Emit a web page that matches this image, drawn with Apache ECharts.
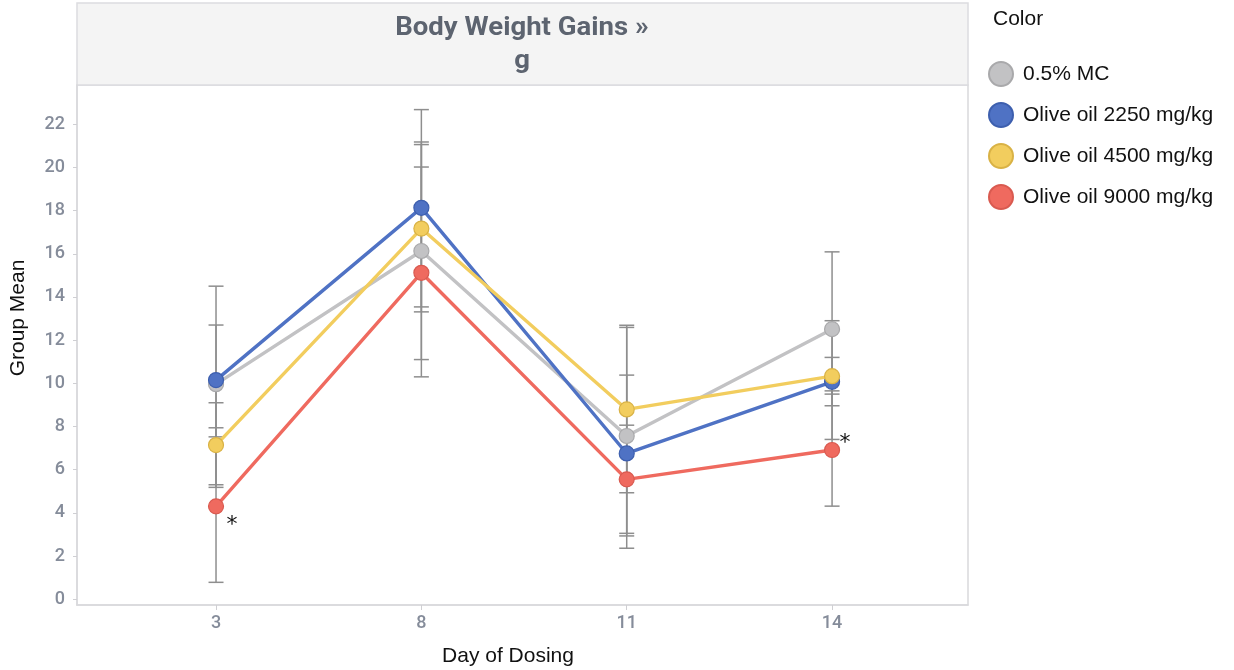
<!DOCTYPE html>
<html>
<head>
<meta charset="utf-8">
<script src="https://cdn.jsdelivr.net/npm/echarts@6/dist/echarts.min.js"></script>
<style>html,body{margin:0;padding:0;background:#fff}#c{width:1234px;height:670px}</style>
</head>
<body>
<div id="c"></div>
<script>
const days = ['3', '8', '11', '14'];
const yTicks = [0, 2, 4, 6, 8, 10, 12, 14, 16, 18, 20, 22];
const seriesNames = ['0.5% MC', 'Olive oil 2250 mg/kg', 'Olive oil 4500 mg/kg', 'Olive oil 9000 mg/kg'];
const mcMean = [9.96, 16.13, 7.56, 12.51];
const mcLow = [5.3, 11.1, 2.36, 8.96];
const mcHigh = [14.5, 21.18, 12.59, 16.09];
const o2250Mean = [10.15, 18.13, 6.75, 10.07];
const o2250Low = [7.52, 13.54, 3.05, 7.4];
const o2250High = [12.7, 22.68, 10.38, 12.9];
const o4500Mean = [7.14, 17.17, 8.79, 10.33];
const o4500Low = [5.18, 13.31, 4.93, 9.5];
const o4500High = [9.1, 21.06, 12.69, 11.2];
const o9000Mean = [4.3, 15.12, 5.55, 6.91];
const o9000Low = [0.78, 10.3, 2.93, 4.31];
const o9000High = [7.94, 20.02, 8.06, 9.65];
const significant = [0, 3]; // indices of days marked with *

const colors = ['#c2c2c4', '#4f72c4', '#f2cd5e', '#ef6a5f'];
const borders = ['#a9a9ab', '#3d5fae', '#d9b245', '#d95a50'];
const means = [mcMean, o2250Mean, o4500Mean, o9000Mean];
const lows = [mcLow, o2250Low, o4500Low, o9000Low];
const highs = [mcHigh, o2250High, o4500High, o9000High];

const chart = echarts.init(document.getElementById('c'));

const series = [];
const errData = [];
means.forEach((m, s) => m.forEach((v, i) => errData.push([i, lows[s][i], highs[s][i]])));
series.push({
  type: 'custom',
  name: 'err',
  z: 1,
  silent: true,
  data: errData,
  encode: { x: 0, y: [1, 2] },
  renderItem: function (params, api) {
    const x = api.value(0);
    const lo = api.coord([x, api.value(1)]);
    const hi = api.coord([x, api.value(2)]);
    const w = 7.5;
    const st = { stroke: '#8e8e8e', lineWidth: 1.5, fill: null };
    return {
      type: 'group',
      children: [
        { type: 'line', shape: { x1: lo[0], y1: lo[1], x2: hi[0], y2: hi[1] }, style: st },
        { type: 'line', shape: { x1: lo[0] - w, y1: lo[1], x2: lo[0] + w, y2: lo[1] }, style: st },
        { type: 'line', shape: { x1: hi[0] - w, y1: hi[1], x2: hi[0] + w, y2: hi[1] }, style: st }
      ]
    };
  }
});
means.forEach((m, s) => {
  const ser = {
    type: 'line',
    name: seriesNames[s],
    z: 3 + s,
    data: m.map((v, i) => [i, v]),
    symbol: 'circle',
    symbolSize: 15,
    showSymbol: true,
    lineStyle: { color: colors[s], width: 3.4 },
    itemStyle: { color: colors[s], borderColor: borders[s], borderWidth: 1.2 },
    emphasis: { disabled: true }
  };
  if (s === 3) {
    ser.markPoint = {
      symbol: 'circle',
      symbolSize: 1,
      itemStyle: { color: 'rgba(0,0,0,0)' },
      label: { show: true, formatter: '*', color: '#111', fontSize: 22, fontFamily: 'DejaVu Sans' },
      data: [
        { coord: [significant[0], m[significant[0]]], label: { offset: [16, 19] } },
        { coord: [significant[1], m[significant[1]]], label: { offset: [13, -7] } }
      ]
    };
  }
  series.push(ser);
});

chart.setOption({
  animation: false,
  backgroundColor: '#fff',
  grid: { left: 77, right: 1234 - 968, top: 85, bottom: 670 - 605, show: true, borderColor: '#d9d9dc', borderWidth: 1.5, backgroundColor: '#fff' },
  xAxis: {
    type: 'value',
    min: -0.677,
    max: 3.662,
    axisLine: { show: true, onZero: false, lineStyle: { color: '#d9d9dc', width: 1.5 } },
    axisTick: { show: true, customValues: [0, 1, 2, 3], length: 5, lineStyle: { color: '#cfcfd3' } },
    axisLabel: { customValues: [0, 1, 2, 3], formatter: v => days[Math.round(v)], color: '#858c9a', fontSize: 18, fontWeight: 500, fontFamily: 'Roboto', margin: 9 },
    splitLine: { show: false }
  },
  yAxis: {
    type: 'value',
    min: -0.27,
    max: 23.82,
    axisLine: { show: true, onZero: false, lineStyle: { color: '#d9d9dc', width: 1.5 } },
    axisTick: { show: true, customValues: yTicks, length: 4, lineStyle: { color: '#cfcfd3' } },
    axisLabel: { customValues: yTicks, color: '#858c9a', fontSize: 18, fontWeight: 500, fontFamily: 'Roboto', margin: 12 },
    splitLine: { show: false }
  },
  legend: {
    orient: 'vertical',
    left: 983,
    top: 56,
    itemWidth: 24,
    itemHeight: 24,
    itemGap: 15,
    icon: 'circle',
    data: seriesNames,
    textStyle: { color: '#111', fontSize: 21, lineHeight: 24, fontFamily: 'Liberation Sans', padding: [0, 0, 0, 5] },
    selectedMode: false
  },
  graphic: [
    { type: 'rect', shape: { x: 77, y: 3, width: 891, height: 82 }, style: { fill: '#f4f4f4', stroke: '#dcdcdf', lineWidth: 1.5 }, z: 0 },
    { type: 'text', x: 522, y: 28, scaleX: 1.06, style: { text: 'Body Weight Gains »', fill: '#5d6470', font: 'bold 26px Roboto', align: 'center', verticalAlign: 'middle' } },
    { type: 'text', x: 522, y: 61, scaleX: 1.06, style: { text: 'g', fill: '#5d6470', font: 'bold 26px Roboto', align: 'center', verticalAlign: 'middle' } },
    { type: 'text', x: 993, y: 19, style: { text: 'Color', fill: '#111', font: '21px "Liberation Sans"', align: 'left', verticalAlign: 'middle' } },
    { type: 'text', x: 18, y: 318, rotation: Math.PI / 2, style: { text: 'Group Mean', fill: '#111', font: '21px "Liberation Sans"', align: 'center', verticalAlign: 'middle' } },
    { type: 'text', x: 508, y: 656, style: { text: 'Day of Dosing', fill: '#111', font: '21px "Liberation Sans"', align: 'center', verticalAlign: 'middle' } }
  ],
  series: series
});
</script>
</body>
</html>
